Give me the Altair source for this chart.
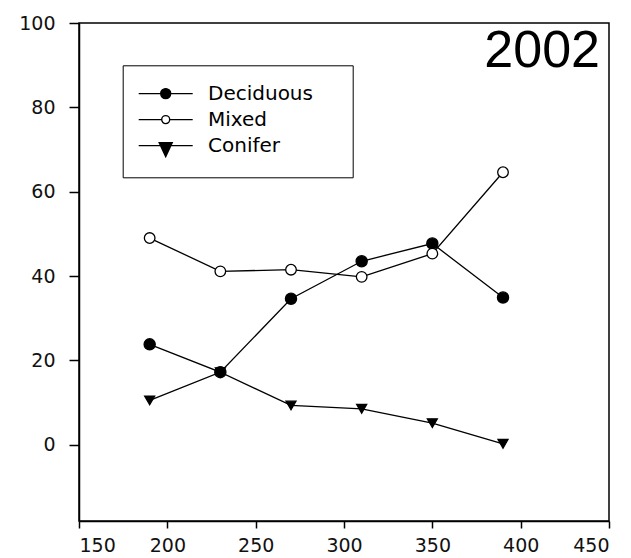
import altair as alt
import pandas as pd

# ---- data ----
x_vals = [190, 230, 270, 310, 350, 390]
deciduous = [23.8, 17.2, 34.6, 43.5, 47.7, 34.9]
mixed = [49.0, 41.1, 41.5, 39.8, 45.3, 64.6]
conifer = [10.5, 17.2, 9.3, 8.5, 5.1, 0.2]
series_names = ["Deciduous", "Mixed", "Conifer"]
x_ticks = [150, 200, 250, 300, 350, 400, 450]
y_ticks = [0, 20, 40, 60, 80, 100]
panel_label = ["2002"]

rows = []
for name, vals in zip(series_names, [deciduous, mixed, conifer]):
    for xv, yv in zip(x_vals, vals):
        rows.append({"Elevation": xv, "Percent": yv, "Forest": name})
df = pd.DataFrame(rows)

xenc = alt.X(
    "Elevation:Q",
    scale=alt.Scale(domain=[150, 450], nice=False, zero=False),
    axis=alt.Axis(values=x_ticks, title=None, grid=False, tickSize=7,
                  labelPadding=8, format="d"),
)
yenc = alt.Y(
    "Percent:Q",
    scale=alt.Scale(domain=[-18.1, 100], nice=False, zero=False),
    axis=alt.Axis(values=y_ticks, title=None, grid=False, tickSize=10,
                  labelPadding=14, format="d"),
)

lines = alt.Chart(df).mark_line(color="black", strokeWidth=1.3).encode(
    x=xenc, y=yenc, detail="Forest:N"
)

points = alt.Chart(df).mark_point(
    filled=True, stroke="black", strokeWidth=1.3, opacity=1
).encode(
    x=xenc,
    y=yenc,
    shape=alt.Shape("Forest:N", scale=alt.Scale(domain=series_names,
                    range=["circle", "circle", "triangle-down"]), legend=None),
    fill=alt.Fill("Forest:N", scale=alt.Scale(domain=series_names,
                  range=["black", "white", "black"]), legend=None),
    size=alt.Size("Forest:N", scale=alt.Scale(domain=series_names,
                  range=[125, 100, 165]), legend=None),
)

# legend glyphs: a line segment with the series marker on it; the final
# bare move-to draws nothing but widens the legend frame like the reference
legend_paths = [
    "M-1.23,0L4.17,0M1.97,0A0.5,0.5,0,1,1,0.97,0A0.5,0.5,0,1,1,1.97,0ZM18.1,0",
    "M-1.23,0L1.07,0M1.87,0L4.17,0M1.87,0A0.4,0.4,0,1,1,1.07,0A0.4,0.4,0,1,1,1.87,0ZM18.1,0",
    "M-1.23,0L4.17,0M0.82,-0.3L2.12,-0.3L1.47,1.1ZM18.1,0",
]
leg = alt.Legend(
    title=None, orient="none", legendX=43.7, legendY=42.3,
    strokeColor="black", fillColor="white", padding=17.3,
    symbolSize=400, symbolStrokeWidth=1.4, symbolOpacity=1,
    labelFont="DejaVu Sans", labelFontSize=20, labelColor="black",
    labelOffset=46, rowPadding=5,
)
legend_layer = alt.Chart(df).mark_point(
    filled=True, stroke="black", strokeWidth=1.4, opacity=0, size=400
).encode(
    x=xenc,
    y=yenc,
    shape=alt.Shape("Forest:N", scale=alt.Scale(domain=series_names,
                    range=legend_paths), legend=leg),
    fill=alt.Fill("Forest:N", scale=alt.Scale(domain=series_names,
                  range=["black", "white", "black"]), legend=leg),
)

label_layer = alt.Chart(pd.DataFrame({"label": panel_label})).mark_text(
    align="right", baseline="alphabetic", font="Liberation Sans",
    fontSize=52, color="black"
).encode(text="label:N", x=alt.value(521), y=alt.value(44))

chart = (
    alt.layer(lines, points, legend_layer, label_layer)
    .resolve_scale(shape="independent", fill="independent", size="independent")
    .properties(
        width=530, height=498, autosize="none",
        padding={"left": 79, "top": 23, "right": 22, "bottom": 37},
        background="white",
    )
    .configure_view(stroke="black", strokeWidth=1.5)
    .configure_axis(
        domainColor="black", domainWidth=1.5, tickColor="black", tickWidth=1.5,
        labelFont="DejaVu Sans", labelFontSize=19, labelColor="#111111",
    )
)

chart.save("out.html", embed_options={"renderer": "svg", "actions": False})
